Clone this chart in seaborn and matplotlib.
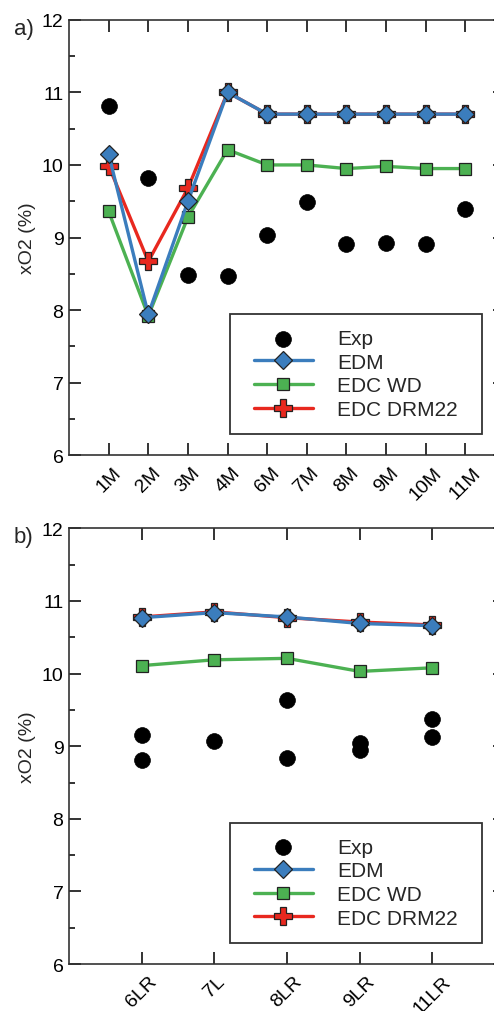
import numpy as np
import matplotlib
matplotlib.use("Agg")
import matplotlib.pyplot as plt
import seaborn as sns
from matplotlib.ticker import MultipleLocator, FixedLocator, NullLocator
from matplotlib.lines import Line2D
from matplotlib.collections import PathCollection
from matplotlib.legend_handler import HandlerLine2D, HandlerPathCollection
from matplotlib.transforms import ScaledTranslation

# ---------------- data ----------------
cats_a = ["1M", "2M", "3M", "4M", "6M", "7M", "8M", "9M", "10M", "11M"]
exp_a = [10.81, 9.82, 8.48, 8.47, 9.04, 9.49, 8.91, 8.93, 8.91, 9.39]
edm_a = [10.15, 7.94, 9.50, 11.00, 10.70, 10.70, 10.70, 10.70, 10.70, 10.70]
wd_a = [9.36, 7.92, 9.28, 10.21, 10.00, 10.00, 9.95, 9.98, 9.95, 9.95]
drm_a = [9.99, 8.67, 9.68, 11.00, 10.70, 10.70, 10.70, 10.70, 10.70, 10.70]

cats_b = ["6LR", "7L", "8LR", "9LR", "11LR"]
exp_b_x = ["6LR", "6LR", "7L", "8LR", "8LR", "9LR", "9LR", "11LR", "11LR"]
exp_b_y = [9.16, 8.81, 9.07, 9.64, 8.84, 9.04, 8.95, 9.37, 9.13]
edm_b = [10.77, 10.84, 10.78, 10.69, 10.66]
wd_b = [10.11, 10.19, 10.21, 10.03, 10.08]
drm_b = [10.78, 10.85, 10.77, 10.71, 10.67]

yticks = [6, 7, 8, 9, 10, 11, 12]

# ---------------- style ----------------
sns.set_style("ticks")
plt.rcParams["font.family"] = ["Liberation Sans", "DejaVu Sans"]
BLUE = "#3b7dbd"
GREEN = "#4cb152"
RED = "#e8281f"
EDGE = "#222222"
SPINE = "#333333"
plt.rcParams.update({
    "xtick.direction": "in", "ytick.direction": "in",
    "xtick.top": True, "ytick.right": True,
    "xtick.bottom": True, "ytick.left": True,
    "xtick.color": SPINE, "ytick.color": SPINE,
    "xtick.labelcolor": "black", "ytick.labelcolor": "black",
    "xtick.major.size": 8.7, "ytick.major.size": 8.7,
    "xtick.minor.size": 4.3, "ytick.minor.size": 4.3,
    "xtick.major.width": 1.4, "ytick.major.width": 1.4,
    "xtick.minor.width": 1.4, "ytick.minor.width": 1.4,
})

fig = plt.figure(figsize=(4.94, 10.12), dpi=100)
ax1 = fig.add_axes([0.1397, 0.5491, 0.8826, 0.4304])
ax2 = fig.add_axes([0.1397, 0.0464, 0.8826, 0.4305])

LEG_FS = 15
XPAD = 9 / (LEG_FS * 100 / 72)


def draw(ax, cats, ex_x, ex_y, edm, wd, drm):
    pos = {c: i for i, c in enumerate(cats)}
    xs = [pos[c] for c in cats]
    ex_pos = [pos[c] for c in ex_x]
    sns.scatterplot(x=ex_pos, y=ex_y, ax=ax, color="black", s=130,
                    edgecolor="black", linewidth=0.5, label="Exp", zorder=3)
    sns.lineplot(x=xs, y=wd, ax=ax, color=GREEN, linewidth=2.4, marker="s",
                 markersize=8.3, markeredgecolor=EDGE, markeredgewidth=0.9,
                 sort=False, label="EDC WD", zorder=4)
    sns.lineplot(x=xs, y=drm, ax=ax, color=RED, linewidth=2.4, marker="P",
                 markersize=12.5, markeredgecolor=EDGE, markeredgewidth=0.9,
                 sort=False, label="EDC DRM22", zorder=5)
    sns.lineplot(x=xs, y=edm, ax=ax, color=BLUE, linewidth=2.4, marker="D",
                 markersize=9.0, markeredgecolor=EDGE, markeredgewidth=0.9,
                 sort=False, label="EDM", zorder=6)

    ax.set_xlim(-1, len(cats))
    ax.set_ylim(6, 12)
    ax.yaxis.set_major_locator(FixedLocator(yticks))
    ax.yaxis.set_minor_locator(MultipleLocator(0.5))
    ax.xaxis.set_major_locator(FixedLocator(xs))
    ax.xaxis.set_minor_locator(NullLocator())
    ax.set_xticklabels(cats, rotation=45, ha="center", fontsize=14)
    off = ScaledTranslation(6 / 100, 0, fig.dpi_scale_trans)
    for lab in ax.get_xticklabels():
        lab.set_transform(lab.get_transform() + off)
    ax.tick_params(which="both", direction="in", top=True, right=True,
                   bottom=True, left=True, labeltop=False, labelright=False,
                   color=SPINE, width=1.4)
    ax.tick_params(which="major", length=8.7)
    ax.tick_params(which="minor", length=4.3)
    ax.tick_params(axis="y", labelsize=14, pad=4)
    ax.tick_params(axis="x", pad=6)
    for sp in ax.spines.values():
        sp.set_color(SPINE)
        sp.set_linewidth(1.2)
    ax.set_xlabel("")
    ax.set_ylabel("xO2 (%)", fontsize=14, labelpad=4)

    handles, labels = ax.get_legend_handles_labels()
    order = ["Exp", "EDM", "EDC WD", "EDC DRM22"]
    hmap = dict(zip(labels, handles))
    leg = ax.legend([hmap[k] for k in order], order, loc="upper left",
                    bbox_to_anchor=(0.369, 0.054, 0.578, 0.27), mode="expand",
                    borderaxespad=0, fontsize=LEG_FS, frameon=True, fancybox=False,
                    framealpha=1, edgecolor=SPINE, handlelength=3.26,
                    handletextpad=1.15, labelspacing=0.22, borderpad=0.72,
                    scatterpoints=1,
                    handler_map={Line2D: HandlerLine2D(xpad=XPAD),
                                 PathCollection: HandlerPathCollection(xpad=XPAD)})
    leg.get_frame().set_linewidth(1.3)


draw(ax1, cats_a, cats_a, exp_a, edm_a, wd_a, drm_a)
draw(ax2, cats_b, exp_b_x, exp_b_y, edm_b, wd_b, drm_b)

fig.text(14 / 494, 1 - 30 / 1012, "a)", fontsize=16, va="center", ha="left")
fig.text(14 / 494, 1 - 537 / 1012, "b)", fontsize=16, va="center", ha="left")

fig.savefig("out.png", dpi=100)
